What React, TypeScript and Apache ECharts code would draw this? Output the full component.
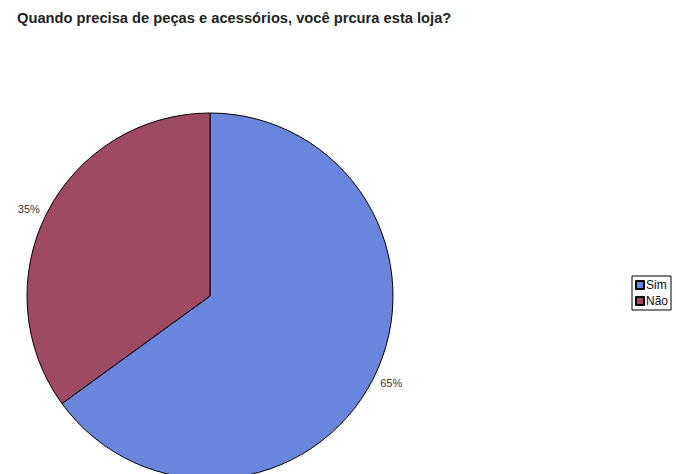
import React, { useEffect, useRef } from "react";
import * as echarts from "echarts";

const titleText = "Quando precisa de peças e acessórios, você prcura esta loja?";
const categories = ["Sim", "Não"];
const values = [65, 35];
const colors = ["#6a86dc", "#9e4a62"];

export default function App() {
  const ref = useRef<HTMLDivElement>(null);
  useEffect(() => {
    if (!ref.current) return;
    const chart = echarts.init(ref.current, null, { renderer: "svg" });
    chart.setOption({
      animation: false,
      backgroundColor: "#ffffff",
      title: {
        text: titleText,
        left: 17,
        top: 10,
        padding: 0,
        textStyle: {
          fontFamily: "Arial, 'Liberation Sans', sans-serif",
          fontSize: 14.7,
          fontWeight: "bold",
          color: "#222",
        },
      },
      legend: {
        orient: "vertical",
        left: 632,
        top: 276,
        padding: [3, 3, 3, 3],
        itemGap: 4,
        itemWidth: 8,
        itemHeight: 8,
        icon: "rect",
        borderColor: "#000",
        borderWidth: 1,
        data: categories,
        textStyle: {
          fontFamily: "Arial, 'Liberation Sans', sans-serif",
          fontSize: 12,
          color: "#111",
          padding: [0, 0, 0, -3],
        },
      },
      series: [
        {
          type: "pie",
          center: [210, 296],
          radius: 183,
          startAngle: 90,
          clockwise: true,
          silent: true,
          itemStyle: { borderColor: "#000", borderWidth: 1 },
          label: {
            show: true,
            position: "outside",
            formatter: "{d}%",
            distanceToLabelLine: 0,
            fontFamily: "Arial, 'Liberation Sans', sans-serif",
            fontSize: 11,
            color: "#333",
          },
          labelLine: { show: false, length: 8, length2: 0 },
          data: categories.map((c, i) => ({
            name: c,
            value: values[i],
            itemStyle: { color: colors[i] },
          })),
        },
      ],
    });
    return () => chart.dispose();
  }, []);
  return (
    <div
      ref={ref}
      style={{ position: "fixed", left: 0, top: 0, width: 676, height: 474 }}
    />
  );
}
